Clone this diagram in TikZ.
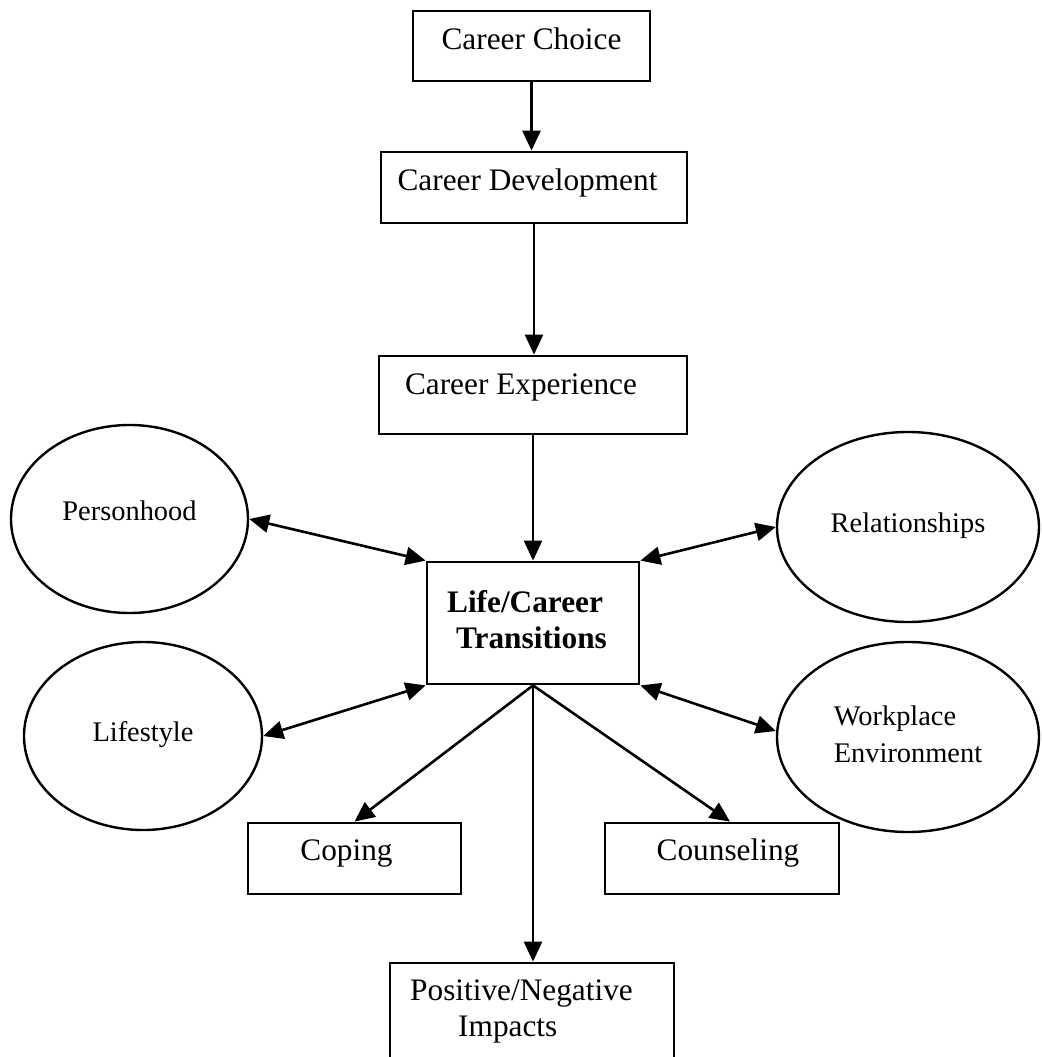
\documentclass[tikz,border=0pt]{standalone}
\usepackage{fontspec}
\setmainfont{Liberation Serif}
\usetikzlibrary{arrows.meta,shapes.geometric}
\begin{document}
\begin{tikzpicture}[x=1pt,y=-1pt,
  box/.style={draw, line width=2.8pt, rectangle, inner sep=0pt, font=\fontsize{31.3}{36}\selectfont},
  oval/.style={draw, line width=2.4pt, ellipse, inner sep=0pt, font=\fontsize{28.4}{37}\selectfont},
  arr/.style={line width=2.6pt, -{Triangle[length=20pt,width=18pt]}},
  darr/.style={line width=2.6pt, {Triangle[length=20pt,width=18pt]}-{Triangle[length=20pt,width=18pt]}}]
\useasboundingbox (0,0) rectangle (1041,1057);
\clip (0,0) rectangle (1041,1057);
\fill[white] (0,0) rectangle (1041,1057);

% boxes
\node[box, minimum width=237pt, minimum height=70pt, text height=6pt, text depth=0pt] (choice) at (531.5,46) {Career Choice};
\node[box, minimum width=306pt, minimum height=71pt, text height=5pt, text depth=0pt] (dev) at (534,187.5) {Career Development\hspace*{13pt}};
\node[box, minimum width=308pt, minimum height=78pt, text height=0pt, text depth=2pt] (exp) at (533,395) {Career Experience\hspace*{24pt}};
\node[box, minimum width=212pt, minimum height=122pt, text height=0pt, text depth=22pt] (trans) at (533,623)
  {{\bfseries\begin{tabular}[t]{@{}l@{}}Life/Career\\\hspace*{9pt}Transitions\end{tabular}}\hspace*{12pt}};
\node[box, minimum width=213pt, minimum height=71pt, text height=3pt, text depth=0pt] (coping) at (354.5,858.5) {Coping\hspace*{16pt}};
\node[box, minimum width=234pt, minimum height=71pt, text height=3pt, text depth=0pt] (couns) at (722,858.5) {\hspace*{12pt}Counseling};
\node[box, minimum width=284pt, minimum height=99pt, text height=0pt, text depth=25pt] (posneg) at (532,1012.5)
  {\begin{tabular}[t]{@{}l@{}}Positive/Negative\\\hspace*{48pt}Impacts\end{tabular}\hspace*{21pt}};

% ellipses
\node[oval, minimum width=237pt, minimum height=188pt, text height=2pt, text depth=0pt] (person) at (129.5,519) {Personhood};
\node[oval, minimum width=238pt, minimum height=188pt, text height=10pt, text depth=0pt] (life) at (143,736) {Lifestyle};
\node[oval, minimum width=262pt, minimum height=190pt, text height=10pt, text depth=0pt] (rel) at (908,527) {Relationships};
\node[oval, minimum width=262pt, minimum height=190pt, text height=0pt, text depth=24pt] (work) at (908,737)
  {\begin{tabular}[t]{@{}l@{}}Workplace\\Environment\end{tabular}};

% connectors
\draw[arr] (choice.south) -- (choice.south |- dev.north);
\draw[arr] (dev.south) -- (dev.south |- exp.north);
\draw[arr] (exp.south) -- (trans.north);
\draw[darr] (person.east) -- (trans.north west);
\draw[darr] (life.east) -- (trans.south west);
\draw[darr] (trans.north east) -- (rel.west);
\draw[darr] (trans.south east) -- ([yshift=6pt]work.west);
\draw[arr] (trans.south) -- (coping.north);
\draw[arr] (trans.south) -- ([xshift=8pt]couns.north);
\draw[arr] (trans.south) -- (trans.south |- posneg.north);
\end{tikzpicture}
\end{document}
